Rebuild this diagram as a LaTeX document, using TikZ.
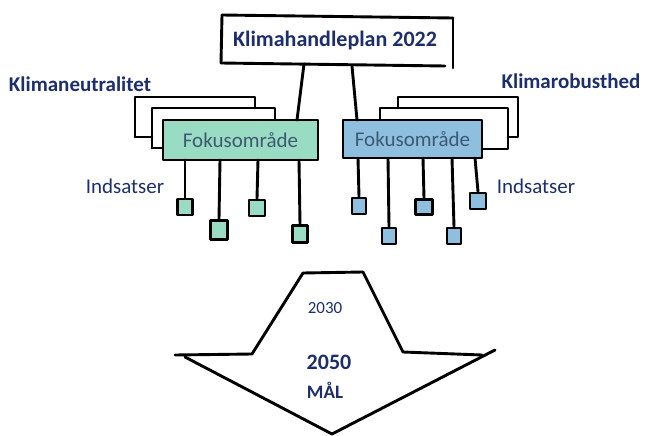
\documentclass[tikz,border=0pt]{standalone}
\usepackage{fontspec}
\setmainfont{Carlito}
\definecolor{navy}{HTML}{1C2E6E}
\definecolor{boxtext}{HTML}{3E5A70}
\definecolor{mint}{HTML}{9ADBC4}
\definecolor{sky}{HTML}{8EBFDF}
\tikzset{
  ink/.style={line width=2.9pt, line cap=round, line join=round, draw=black},
  title/.style={text=navy, font=\bfseries\fontsize{21}{24}\selectfont, inner sep=0pt},
  label/.style={text=navy, font=\fontsize{21}{24}\selectfont, inner sep=0pt},
  focus/.style={text=boxtext, font=\fontsize{21}{24}\selectfont, inner sep=0pt},
  gsq/.style={ink, fill=mint, inner sep=0pt},
  bsq/.style={ink, fill=sky, inner sep=0pt},
}
\begin{document}
\begin{tikzpicture}[x=1pt,y=-1pt]
\useasboundingbox (0,0) rectangle (645,436);
% top box
\fill[white] (222,15) -- (453,18) -- (453,66) -- (221,63) -- cycle;
\draw[ink] (222,15) -- (453,18);
\draw[ink] (453,18) -- (453,68);
\draw[ink] (445,66) -- (221,63);
\draw[ink] (221,63) -- (222,15);
\node[title, font=\bfseries\fontsize{22}{24}\selectfont] (top) at (335,41) {Klimahandleplan 2022};
\coordinate (tl) at (304,64);
\coordinate (tr) at (352,66);
% left back frames
\draw[ink] (135,137) -- (135,97) -- (255,97) -- (255,108);
\draw[ink] (135,137) -- (152,137);
\draw[ink] (152,148) -- (152,108) -- (275,108) -- (275,120);
\draw[ink] (152,148) -- (163,148);
% right back frames
\draw[ink] (398,108) -- (398,97) -- (518,97) -- (518,137) -- (508,137);
\draw[ink] (380,120) -- (380,108) -- (508,108) -- (508,149) -- (482,149);
% focus boxes
\node[draw, ink, fill=mint, minimum width=155pt, minimum height=40pt, inner sep=0pt] (gbox) at (240.5,140) {};
\node[focus] at (gbox.center) {Fokusområde};
\node[draw, ink, fill=sky, minimum width=139pt, minimum height=38pt, inner sep=0pt] (bbox) at (412.5,139) {};
\node[focus] at (bbox.center) {Fokusområde};
\draw[ink] (tl) -- (297,120);
\draw[ink] (tr) -- (357,120);
% labels
\node[title] (kn) at (80,84) {Klimaneutralitet};
\node[title] (kr) at (571,81) {Klimarobusthed};
\node[label] (il) at (125,186) {Indsatser};
\node[label] (ir) at (536,186) {Indsatser};
% green indsatser
\node[gsq, minimum width=15pt, minimum height=16pt] (g1) at (185,207) {};
\node[gsq, minimum width=17pt, minimum height=19pt] (g2) at (219,230) {};
\node[gsq, minimum width=16pt, minimum height=16pt] (g3) at (257,208) {};
\node[gsq, minimum width=15pt, minimum height=17pt] (g4) at (300,234) {};
\draw[ink] (185,160) -- (g1.north);
\draw[ink] (220,160) -- (g2.north);
\draw[ink] (258,160) -- (g3.north);
\draw[ink] (299,160) -- (g4.north);
% blue indsatser
\node[bsq, minimum width=14pt, minimum height=16pt] (b1) at (359,206) {};
\node[bsq, minimum width=14pt, minimum height=16pt] (b2) at (389,236) {};
\node[bsq, minimum width=17pt, minimum height=15pt] (b3) at (424,207) {};
\node[bsq, minimum width=14pt, minimum height=16pt] (b4) at (454,236) {};
\node[bsq, minimum width=16pt, minimum height=16pt] (b5) at (478,201) {};
\draw[ink] (358,158) -- (b1.north);
\draw[ink] (388,158) -- (b2.north);
\draw[ink] (423,158) -- (b3.north);
\draw[ink] (452,158) -- (b4.north);
\draw[ink] (475,158) -- (b5.north);
% big arrow
\draw[ink] (303,273) -- (363,272);
\draw[ink] (303,273) -- (252,354) -- (175,355);
\draw[ink] (363,272) -- (403,352) -- (482,355);
\draw[ink] (185,357) -- (332,434) -- (495,350);
\node[label, font=\fontsize{17}{20}\selectfont] (y30) at (325,308) {2030};
\node[title, font=\bfseries\fontsize{22}{24}\selectfont] (y50) at (329,362) {2050};
\node[title, font=\bfseries\fontsize{19}{22}\selectfont] (mal) at (325,390) {MÅL};
\end{tikzpicture}
\end{document}
